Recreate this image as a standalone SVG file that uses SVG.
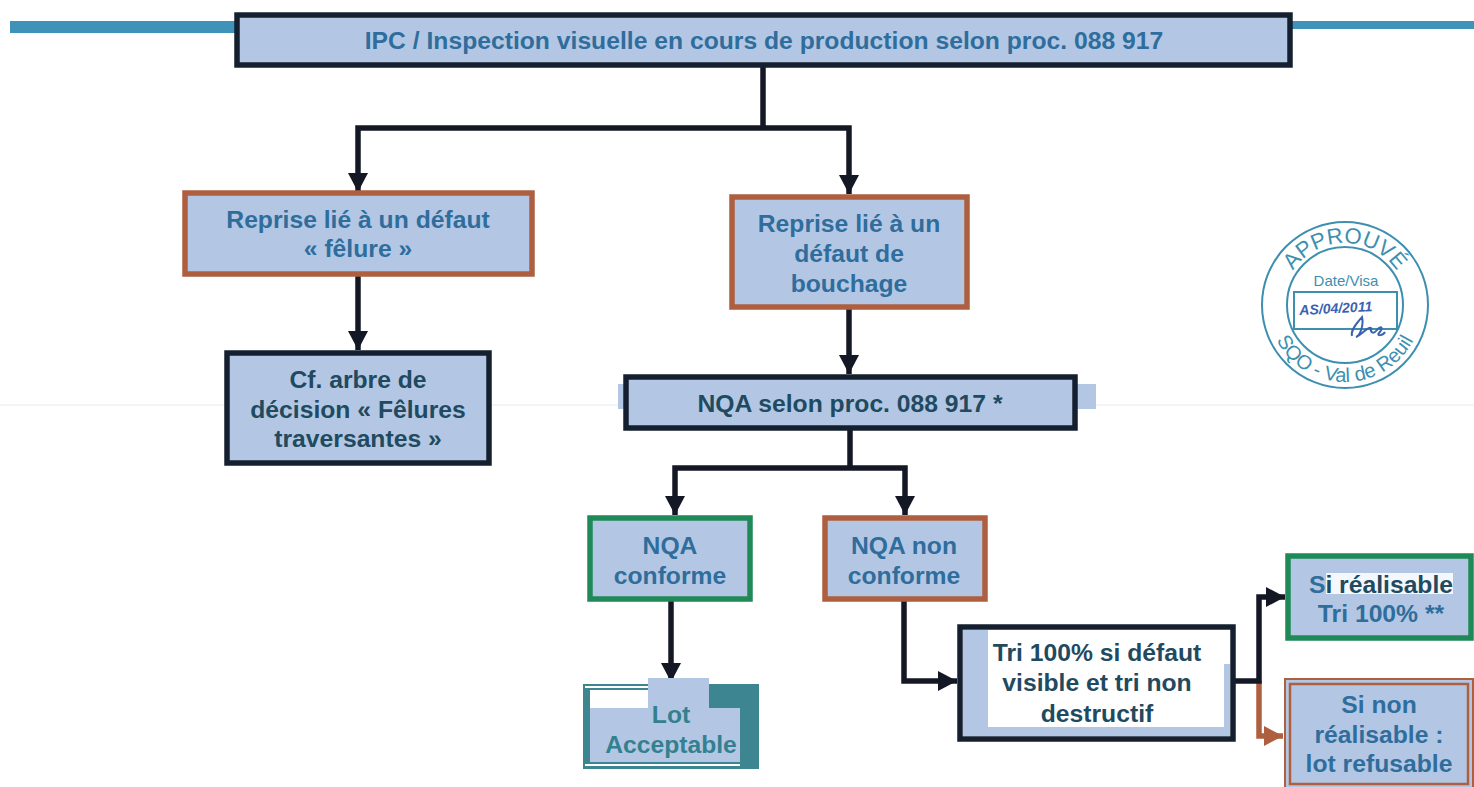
<svg xmlns="http://www.w3.org/2000/svg" width="1474" height="787" viewBox="0 0 1474 787">
<style>
.box{fill:#b3c7e4;stroke-width:5.5}
.dark{stroke:#14202f}
.brown{stroke:#ae5f40}
.green{stroke:#1f8a58}
text{font-family:"Liberation Sans",Arial,sans-serif;font-weight:700;text-anchor:middle;font-size:24.7px}
.b{fill:#2f6d9c}
.d{fill:#1f4a60}
.t{fill:#33808f}
.c{fill:none;stroke:#141824;stroke-width:5.5}
.st{fill:none;stroke:#3d8fb0;stroke-width:2}
.sx{font-weight:400;fill:#3d8fb0}
</style>
<defs>
<marker id="ad" markerUnits="userSpaceOnUse" markerWidth="22" markerHeight="22" refX="19" refY="10" orient="auto"><path d="M0 0L19 10L0 20Z" fill="#141824"/></marker>
<marker id="ab" markerUnits="userSpaceOnUse" markerWidth="22" markerHeight="22" refX="19" refY="10" orient="auto"><path d="M0 0L19 10L0 20Z" fill="#ae5f40"/></marker>
<path id="arcTop" d="M1283 305A62 62 0 0 1 1407 305"/>
<path id="arcBot" d="M1268 305A77 77 0 0 0 1422 305"/>
</defs>
<rect width="1474" height="787" fill="#fff"/>
<path d="M0 405H1474" stroke="#f4f4f4" stroke-width="2"/>
<g id="rule">
<rect x="10" y="21" width="228" height="12" fill="#3f93b8"/>
<rect x="1289" y="21" width="185" height="8" fill="#3f93b8"/>
</g>
<g id="connectors">
<path class="c" d="M763 66V128"/>
<path class="c" d="M763 128H358V192" marker-end="url(#ad)"/>
<path class="c" d="M763 128H849V194" marker-end="url(#ad)"/>
<path class="c" d="M358 274V350" marker-end="url(#ad)"/>
<path class="c" d="M849 307V374" marker-end="url(#ad)"/>
<path class="c" d="M850 428V468"/>
<path class="c" d="M850 468H675V515" marker-end="url(#ad)"/>
<path class="c" d="M850 468H905V515" marker-end="url(#ad)"/>
<path class="c" d="M671 600V682" marker-end="url(#ad)"/>
<path class="c" d="M904 600V681H957" marker-end="url(#ad)"/>
<path class="c" style="stroke:#ae5f40" d="M1259 681V736H1283" marker-end="url(#ab)"/>
<path class="c" d="M1235 681H1259V597H1285" marker-end="url(#ad)"/>
</g>
<g id="n1"><rect class="box dark" x="237" y="15" width="1053" height="50"/>
<text class="b" x="764" y="49">IPC / Inspection visuelle en cours de production selon proc. 088 917</text></g>
<g id="n2"><rect class="box brown" x="185" y="193" width="347" height="81"/>
<text class="b" x="358" y="228">Reprise lié à un défaut</text><text class="b" x="358" y="257">« fêlure »</text></g>
<g id="n3"><rect class="box brown" x="732" y="197" width="235" height="110"/>
<text class="b" x="849" y="232">Reprise lié à un</text><text class="b" x="849" y="262">défaut de</text><text class="b" x="849" y="292">bouchage</text></g>
<g id="n4"><rect class="box dark" x="227" y="353" width="262" height="110"/>
<text class="d" x="358" y="388">Cf. arbre de</text><text class="d" x="358" y="418">décision « Fêlures</text><text class="d" x="358" y="447">traversantes »</text></g>
<g id="n5"><rect x="618" y="384" width="10" height="25" fill="#b3c7e4"/><rect x="1072" y="384" width="24" height="25" fill="#b3c7e4"/>
<rect class="box dark" x="626" y="377" width="449" height="51"/>
<text class="d" x="850" y="412">NQA selon proc. 088 917 *</text></g>
<g id="n6"><rect class="box green" x="590" y="518" width="160" height="81"/>
<text class="b" x="670" y="554">NQA</text><text class="b" x="670" y="584">conforme</text></g>
<g id="n7"><rect class="box brown" x="825" y="518" width="160" height="81"/>
<text class="b" x="904" y="554">NQA non</text><text class="b" x="904" y="584">conforme</text></g>
<g id="n8"><rect x="583" y="684" width="176" height="85" fill="#3d8590"/>
<rect x="585" y="686" width="124" height="2" fill="#fff"/>
<rect x="590" y="690" width="119" height="18" fill="#fff"/>
<rect x="590" y="708" width="150" height="54" fill="#b3c7e4"/>
<rect x="648" y="678" width="61" height="30" fill="#b3c7e4"/>
<rect x="585" y="764" width="155" height="2" fill="#fff"/>
<text class="t" x="671" y="723">Lot</text><text class="t" x="671" y="753">Acceptable</text></g>
<g id="n9"><rect x="960" y="627" width="273" height="112" fill="#fff" class="dark" style="stroke-width:5.5"/>
<rect x="963" y="630" width="25" height="106" fill="#b3c7e4"/><rect x="963" y="727" width="267" height="9" fill="#b3c7e4"/><rect x="1224" y="664" width="6" height="72" fill="#b3c7e4"/>
<text class="d" x="1097" y="661">Tri 100% si défaut</text><text class="d" x="1097" y="691">visible et tri non</text><text class="d" x="1097" y="722">destructif</text></g>
<g id="n10"><rect class="box green" x="1288" y="556" width="183" height="82"/>
<rect x="1326" y="573" width="127" height="21" fill="#fff" opacity=".85"/>
<text class="b" x="1381" y="593">S<tspan class="d">i réalisable</tspan></text><text class="b" x="1381" y="622">Tri 100% **</text></g>
<g id="n11"><rect x="1285" y="679" width="188" height="112" fill="#b3c7e4" stroke="#ae5f40" stroke-width="2"/>
<rect x="1290" y="684" width="178" height="100" fill="none" stroke="#ae5f40" stroke-width="2.5"/>
<text class="b" x="1379" y="713">Si non</text><text class="b" x="1379" y="743">réalisable :</text><text class="b" x="1379" y="772">lot refusable</text></g>
<g id="stamp">
<circle class="st" cx="1345" cy="305" r="83"/><circle class="st" cx="1345" cy="305" r="58"/>
<rect class="st" x="1294" y="292" width="103" height="37" fill="#fff"/>
<text class="sx" style="font-size:22px"><textPath href="#arcTop" startOffset="50%">APPROUVÉ</textPath></text>
<text class="sx" style="font-size:20px"><textPath href="#arcBot" startOffset="50%">SQO - Val de Reuil</textPath></text>
<text class="sx" x="1346" y="286" style="font-size:15px">Date/Visa</text>
<text x="1336" y="313" transform="rotate(-3 1336 313)" style="font-size:14px;font-weight:700;font-style:italic;fill:#3a62b0">AS/04/2011</text>
<path d="M1352 336C1350 330 1358 322 1362 317C1364 325 1360 336 1356 337C1363 334 1368 326 1371 328C1370 332 1373 335 1377 330C1381 325 1384 327 1379 333C1376 336 1383 336 1385 332" fill="none" stroke="#3a62b0" stroke-width="2"/>
</g>
</svg>
